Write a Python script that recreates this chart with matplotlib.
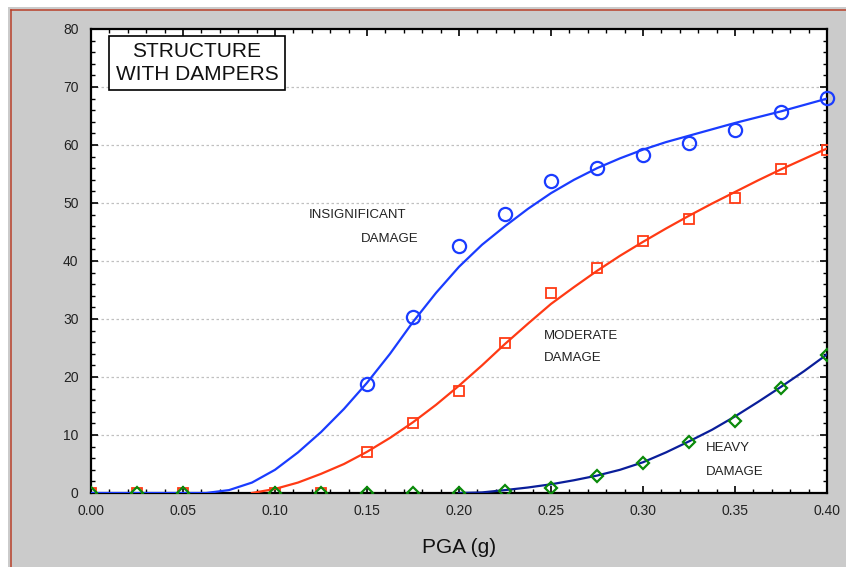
import matplotlib
matplotlib.use("Agg")
import matplotlib.pyplot as plt
from matplotlib.lines import Line2D
from matplotlib.ticker import MultipleLocator, FormatStrFormatter

plt.rcParams['font.family'] = ['Liberation Sans', 'DejaVu Sans']

# Observed points
x_obs = [0.0, 0.025, 0.05, 0.10, 0.125, 0.15, 0.175, 0.20, 0.225, 0.25,
         0.275, 0.30, 0.325, 0.35, 0.375, 0.40]
x_ins = [0.15, 0.175, 0.20, 0.225, 0.25, 0.275, 0.30, 0.325, 0.35, 0.375, 0.40]
y_ins = [18.8, 30.3, 42.6, 48.1, 53.8, 56.0, 58.3, 60.3, 62.6, 65.7, 68.1]
y_mod = [0, 0, 0, 0, 0, 7.1, 12.1, 17.6, 25.9, 34.5, 38.8, 43.4, 47.2, 50.9, 55.9, 59.1]
y_hvy = [0, 0, 0, 0, 0, 0, 0, 0, 0.4, 0.9, 2.9, 5.2, 8.8, 12.4, 18.1, 23.8]

# Fitted curves
xc_ins = [0.0, 0.0625, 0.075, 0.0875, 0.10, 0.1125, 0.125, 0.1375, 0.15, 0.1625,
          0.175, 0.1875, 0.20, 0.2125, 0.225, 0.2375, 0.25, 0.2625, 0.275, 0.2875,
          0.30, 0.3125, 0.325, 0.3375, 0.35, 0.3625, 0.375, 0.3875, 0.40]
yc_ins = [0.0, 0.0, 0.5, 1.8, 4.0, 7.0, 10.5, 14.5, 19.0, 24.0,
          29.5, 34.5, 39.0, 42.8, 46.0, 49.0, 51.7, 54.0, 56.0, 57.7,
          59.2, 60.5, 61.6, 62.7, 63.8, 64.8, 65.8, 66.9, 68.0]
xc_mod = [0.0875, 0.10, 0.1125, 0.125, 0.1375, 0.15, 0.1625, 0.175, 0.1875, 0.20,
          0.2125, 0.225, 0.2375, 0.25, 0.2625, 0.275, 0.2875, 0.30, 0.3125, 0.325,
          0.3375, 0.35, 0.3625, 0.375, 0.3875, 0.40]
yc_mod = [0.0, 0.7, 1.8, 3.3, 5.0, 7.1, 9.5, 12.2, 15.2, 18.5,
          22.0, 25.7, 29.2, 32.6, 35.5, 38.3, 40.9, 43.3, 45.6, 47.8,
          49.9, 51.9, 53.9, 55.8, 57.6, 59.4]
xc_hvy = [0.20, 0.2125, 0.225, 0.2375, 0.25, 0.2625, 0.275, 0.2875, 0.30, 0.3125,
          0.325, 0.3375, 0.35, 0.3625, 0.375, 0.3875, 0.40]
yc_hvy = [0.0, 0.1, 0.5, 0.95, 1.5, 2.2, 3.0, 4.0, 5.3, 7.0,
          8.9, 10.9, 13.2, 15.7, 18.3, 21.0, 23.9]

W, H = 846, 567
fig = plt.figure(figsize=(W / 100, H / 100), dpi=100)
fig.patch.set_facecolor('#cbcbcb')

# white strips and red frame lines
fig.patches.append(plt.Rectangle((0, 1 - 7 / H), 1, 7 / H, transform=fig.transFigure,
                                 facecolor='white', edgecolor='none', zorder=0))
fig.patches.append(plt.Rectangle((0, 0), 8 / W, 1, transform=fig.transFigure,
                                 facecolor='white', edgecolor='none', zorder=0))
fig.lines.append(Line2D([11 / W, 1], [1 - 10 / H, 1 - 10 / H], transform=fig.transFigure,
                        color='#b8402a', lw=1.1))
fig.lines.append(Line2D([11 / W, 11 / W], [0, 1 - 10 / H], transform=fig.transFigure,
                        color='#b8402a', lw=1.1))

ax = fig.add_axes([91 / W, 1 - 493 / H, 736 / W, 464 / H])
ax.set_facecolor('white')
ax.set_xlim(0, 0.40)
ax.set_ylim(0, 80)

for y in range(10, 80, 10):
    ax.axhline(y, color='#c0c0c0', lw=0.9, ls=(0, (2, 2)), zorder=1)

ax.plot(xc_ins, yc_ins, color='#1a3cff', lw=1.6, zorder=3)
ax.plot(xc_mod, yc_mod, color='#ff3a14', lw=1.6, zorder=3)
ax.plot(xc_hvy, yc_hvy, color='#0a1e9a', lw=1.6, zorder=3)

ax.plot(x_ins, y_ins, ls='none', marker='o', ms=9.5, mfc='none', mec='#1a3cff', mew=1.6,
        zorder=4, clip_on=False)
ax.plot(x_obs, y_mod, ls='none', marker='s', ms=7.5, mfc='none', mec='#ff3a14', mew=1.3,
        zorder=4)
ax.plot(x_obs, y_hvy, ls='none', marker='D', ms=6.5, mfc='none', mec='#0a8a0a', mew=1.6,
        zorder=5)

ax.xaxis.set_major_locator(MultipleLocator(0.05))
ax.xaxis.set_minor_locator(MultipleLocator(0.01))
ax.yaxis.set_major_locator(MultipleLocator(10))
ax.yaxis.set_minor_locator(MultipleLocator(2))
ax.xaxis.set_major_formatter(FormatStrFormatter('%.2f'))
ax.tick_params(which='both', direction='in', top=True, right=True, color='black',
               labelsize=10, labelcolor='#222222')
ax.tick_params(which='major', length=5, width=1.2)
ax.tick_params(which='minor', length=3, width=1.0)
ax.tick_params(axis='x', pad=8)
ax.tick_params(axis='y', pad=9)
for s in ax.spines.values():
    s.set_linewidth(1.6)
    s.set_color('black')

ax.set_xlabel('PGA (g)', fontsize=15, labelpad=14, color='#111111')

ax.text(0.144, 0.972, 'STRUCTURE\nWITH DAMPERS', transform=ax.transAxes, ha='center',
        va='top', fontsize=15, linespacing=1.25, color='#111111',
        bbox=dict(boxstyle='square,pad=0.3', fc='white', ec='black', lw=1.2))

txt = dict(fontsize=9.5, color='#222222', va='center', ha='left')
ax.text(0.1185, 47.9, 'INSIGNIFICANT', **txt)
ax.text(0.1467, 43.8, 'DAMAGE', **txt)
ax.text(0.2462, 27.1, 'MODERATE', **txt)
ax.text(0.2462, 23.3, 'DAMAGE', **txt)
ax.text(0.3340, 7.8, 'HEAVY', **txt)
ax.text(0.3340, 3.6, 'DAMAGE', **txt)

fig.savefig('out.png', dpi=100, facecolor=fig.get_facecolor())
